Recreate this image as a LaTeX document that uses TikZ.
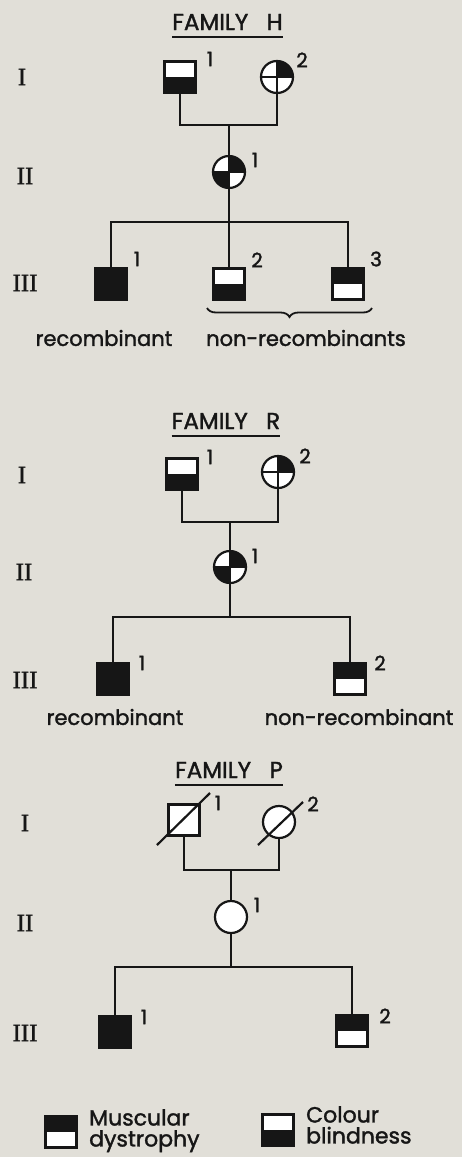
\documentclass[tikz,border=0pt]{standalone}
\usepackage{fontspec}
\newfontfamily\lblfont[FakeBold=1.6]{Poppins}
\newfontfamily\romfont[FakeBold=1.2]{Liberation Serif}
\usetikzlibrary{decorations.pathreplacing}
\definecolor{bg}{RGB}{225,223,216}
\definecolor{ink}{RGB}{22,22,22}
\begin{document}
\begin{tikzpicture}[x=1pt,y=-1pt,
  sq/.style={rectangle,draw=ink,line width=2.5pt,fill=white,minimum size=31pt,inner sep=0pt,outer sep=0pt},
  sqfull/.style={sq,fill=ink},
  cir/.style={circle,draw=ink,line width=2.2pt,fill=white,minimum size=32pt,inner sep=0pt,outer sep=0pt},
  conn/.style={draw=ink,line width=2pt},
  num/.style={font=\lblfont\fontsize{20}{20}\selectfont,text=ink,inner sep=0pt},
  rom/.style={font=\romfont\fontsize{25}{25}\selectfont,text=ink,inner sep=0pt},
  ttl/.style={font=\lblfont\fontsize{23}{23}\selectfont,text=ink,inner sep=0pt},
  lbl/.style={font=\lblfont\fontsize{21}{22}\selectfont,text=ink,inner sep=0pt},
  leg/.style={font=\lblfont\fontsize{22}{21}\selectfont,text=ink,inner sep=0pt},
  uline/.style={draw=ink,line width=2.2pt},
  slash/.style={draw=ink,line width=2.2pt}
]
\fill[bg] (0,0) rectangle (462,1157);
\useasboundingbox (0,0) rectangle (462,1157);

% ================= FAMILY H =================
\node[ttl] (tH) at (227.5,22) {FAMILY\hspace{0.8em}H};
\draw[uline] ([yshift=-7pt]tH.south west) -- ([yshift=-7pt]tH.south east);
\node[rom] (hI) at (22,77) {I};
\node[rom] (hII) at (25,176) {II};
\node[rom] (hIII) at (25,283) {III};

\node[sq] (h11) at (180,77) {};
\fill[ink] (h11.west) rectangle (h11.south east);
\node[num] (h11n) at (210,59) {1};
\node[cir] (h12) at (277,77) {};
\fill[ink] (h12.center) -- (h12.east) arc[start angle=0,end angle=90,radius=16pt] -- cycle;
\draw[conn] (h12.north) -- (h12.south) (h12.west) -- (h12.east);
\node[num] (h12n) at (302,60) {2};

\coordinate (hm) at (229,125);
\draw[conn] (h11.south) |- (hm) -| (h12.south);

\node[cir] (h21) at (229,172) {};
\fill[ink] (h21.center) -- (h21.east) arc[start angle=0,end angle=90,radius=16pt] -- cycle;
\fill[ink] (h21.center) -- (h21.west) arc[start angle=180,end angle=270,radius=16pt] -- cycle;
\draw[conn] (h21.north) -- (h21.south) (h21.west) -- (h21.east);
\node[num] (h21n) at (255,160) {1};
\draw[conn] (hm) -- (h21.north);

\coordinate (hs) at (229,222);
\draw[conn] (h21.south) -- (hs);

\node[sqfull] (h31) at (111,284) {};
\node[num] (h31n) at (137,259) {1};
\node[sq] (h32) at (229,284) {};
\fill[ink] (h32.west) rectangle (h32.south east);
\node[num] (h32n) at (257,260) {2};
\node[sq] (h33) at (348,284) {};
\fill[ink] (h33.north west) rectangle (h33.east);
\node[num] (h33n) at (376,259) {3};

\draw[conn] (h31.north) |- (hs) -| (h33.north);
\draw[conn] (hs) -- (h32.north);

\coordinate (hbl) at (207,308);
\coordinate (hbr) at (372,308);
\draw[ink,line width=1.8pt,decorate,decoration={brace,mirror,amplitude=9pt}] (hbl) -- (hbr);
\node[lbl] (hrec) at (104,338) {recombinant};
\node[lbl] (hnon) at (306,338) {non-recombinants};

% ================= FAMILY R =================
\node[ttl] (tR) at (226,421) {FAMILY\hspace{0.8em}R};
\draw[uline] ([yshift=-7pt]tR.south west) -- ([yshift=-7pt]tR.south east);
\node[rom] (rI) at (22,475) {I};
\node[rom] (rII) at (24,572) {II};
\node[rom] (rIII) at (25,680) {III};

\node[sq] (r11) at (182,474) {};
\fill[ink] (r11.west) rectangle (r11.south east);
\node[num] (r11n) at (210,457) {1};
\node[cir] (r12) at (278,472) {};
\fill[ink] (r12.center) -- (r12.east) arc[start angle=0,end angle=90,radius=16pt] -- cycle;
\draw[conn] (r12.north) -- (r12.south) (r12.west) -- (r12.east);
\node[num] (r12n) at (305,456) {2};

\coordinate (rm) at (230,522);
\draw[conn] (r11.south) |- (rm) -| (r12.south);

\node[cir] (r21) at (230,567) {};
\fill[ink] (r21.center) -- (r21.east) arc[start angle=0,end angle=90,radius=16pt] -- cycle;
\fill[ink] (r21.center) -- (r21.west) arc[start angle=180,end angle=270,radius=16pt] -- cycle;
\draw[conn] (r21.north) -- (r21.south) (r21.west) -- (r21.east);
\node[num] (r21n) at (255,556) {1};
\draw[conn] (rm) -- (r21.north);

\coordinate (rs) at (230,617);
\draw[conn] (r21.south) -- (rs);

\node[sqfull] (r31) at (113,679) {};
\node[num] (r31n) at (142,663) {1};
\node[sq] (r32) at (350,679) {};
\fill[ink] (r32.north west) rectangle (r32.east);
\node[num] (r32n) at (380,663) {2};
\draw[conn] (r31.north) |- (rs) -| (r32.north);

\node[lbl] (rrec) at (115,717) {recombinant};
\node[lbl] (rnon) at (359,717) {non-recombinant};

% ================= FAMILY P =================
\node[ttl] (tP) at (229,770) {FAMILY\hspace{0.8em}P};
\draw[uline] ([yshift=-7pt]tP.south west) -- ([yshift=-7pt]tP.south east);
\node[rom] (pI) at (25,823) {I};
\node[rom] (pII) at (25,923) {II};
\node[rom] (pIII) at (25,1033) {III};

\node[sq] (p11) at (184,820) {};
\coordinate (p11a) at (157,845);
\coordinate (p11b) at (210,793);
\draw[slash] (p11a) -- (p11b);
\node[num] (p11n) at (218,803) {1};
\node[cir] (p12) at (279,822) {};
\coordinate (p12a) at (258,845);
\coordinate (p12b) at (303,802);
\draw[slash] (p12a) -- (p12b);
\node[num] (p12n) at (313,804) {2};

\coordinate (pm) at (231,870);
\draw[conn] (p11.south) |- (pm) -| (p12.south);

\node[cir] (p21) at (231,917) {};
\node[num] (p21n) at (257,905) {1};
\draw[conn] (pm) -- (p21.north);

\coordinate (ps) at (231,967);
\draw[conn] (p21.south) -- (ps);

\node[sqfull] (p31) at (115,1032) {};
\node[num] (p31n) at (144,1017) {1};
\node[sq] (p32) at (352,1031) {};
\fill[ink] (p32.north west) rectangle (p32.east);
\node[num] (p32n) at (385,1016) {2};
\draw[conn] (p31.north) |- (ps) -| (p32.north);

% ================= LEGEND =================
\node[sq] (k1) at (61,1132) {};
\fill[ink] (k1.north west) rectangle (k1.east);
\node[leg,align=left,anchor=north west] (k1t) at (89,1109) {Muscular\\dystrophy};
\node[sq] (k2) at (278,1130) {};
\fill[ink] (k2.west) rectangle (k2.south east);
\node[leg,align=left,anchor=north west] (k2t) at (306,1106) {Colour\\blindness};
\end{tikzpicture}
\end{document}
